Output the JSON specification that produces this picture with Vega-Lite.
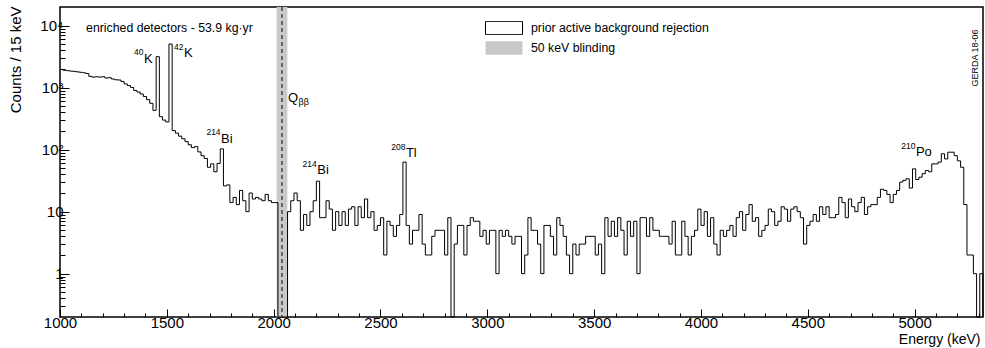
{
  "$schema": "https://vega.github.io/schema/vega-lite/v6.json",
  "width": 923,
  "height": 310,
  "autosize": {"type": "none"},
  "padding": {"left": 60, "top": 7, "right": 2, "bottom": 31},
  "background": "white",
  "config": {
    "view": {"stroke": "black", "strokeWidth": 1.5},
    "font": "Liberation Sans",
    "axis": {
      "grid": false,
      "domain": false,
      "tickColor": "black",
      "tickWidth": 1,
      "labelColor": "black",
      "titleColor": "black",
      "labelFont": "Liberation Sans",
      "titleFont": "Liberation Sans",
      "titleFontWeight": "normal",
      "labelFontSize": 15,
      "titleFontSize": 14
    }
  },
  "datasets": {
    "spectrum": [
      {"e": 1000, "n": 1960}, {"e": 1015, "n": 1910}, {"e": 1030, "n": 1880}, {"e": 1045, "n": 1850},
      {"e": 1060, "n": 1830}, {"e": 1075, "n": 1800}, {"e": 1090, "n": 1770}, {"e": 1105, "n": 1740},
      {"e": 1120, "n": 1690}, {"e": 1135, "n": 1520}, {"e": 1150, "n": 1480}, {"e": 1165, "n": 1500},
      {"e": 1180, "n": 1480}, {"e": 1195, "n": 1500}, {"e": 1210, "n": 1430}, {"e": 1225, "n": 1450},
      {"e": 1240, "n": 1380}, {"e": 1255, "n": 1340}, {"e": 1270, "n": 1330}, {"e": 1285, "n": 1260},
      {"e": 1300, "n": 1150}, {"e": 1315, "n": 1080}, {"e": 1330, "n": 1010}, {"e": 1345, "n": 900},
      {"e": 1360, "n": 850}, {"e": 1375, "n": 790}, {"e": 1390, "n": 720}, {"e": 1405, "n": 640},
      {"e": 1420, "n": 560}, {"e": 1435, "n": 430}, {"e": 1450, "n": 3160}, {"e": 1465, "n": 340},
      {"e": 1480, "n": 300}, {"e": 1495, "n": 280}, {"e": 1510, "n": 5050}, {"e": 1525, "n": 203},
      {"e": 1540, "n": 185}, {"e": 1555, "n": 165}, {"e": 1570, "n": 150}, {"e": 1585, "n": 135},
      {"e": 1600, "n": 120}, {"e": 1615, "n": 108}, {"e": 1630, "n": 112}, {"e": 1645, "n": 92},
      {"e": 1660, "n": 80}, {"e": 1675, "n": 72}, {"e": 1690, "n": 52}, {"e": 1705, "n": 59},
      {"e": 1720, "n": 44}, {"e": 1735, "n": 60}, {"e": 1750, "n": 103}, {"e": 1765, "n": 26},
      {"e": 1780, "n": 27}, {"e": 1795, "n": 14}, {"e": 1810, "n": 17}, {"e": 1825, "n": 13},
      {"e": 1840, "n": 22}, {"e": 1855, "n": 15}, {"e": 1870, "n": 10}, {"e": 1885, "n": 20},
      {"e": 1900, "n": 16}, {"e": 1915, "n": 17}, {"e": 1930, "n": 16}, {"e": 1945, "n": 15},
      {"e": 1960, "n": 19}, {"e": 1975, "n": 15}, {"e": 1990, "n": 14}, {"e": 2005, "n": 14},
      {"e": 2020, "n": 0}, {"e": 2035, "n": 0}, {"e": 2050, "n": 0}, {"e": 2065, "n": 10},
      {"e": 2080, "n": 15}, {"e": 2095, "n": 20}, {"e": 2110, "n": 15}, {"e": 2125, "n": 5},
      {"e": 2140, "n": 9}, {"e": 2155, "n": 6}, {"e": 2170, "n": 10}, {"e": 2185, "n": 15},
      {"e": 2200, "n": 31}, {"e": 2215, "n": 8}, {"e": 2230, "n": 8}, {"e": 2245, "n": 15},
      {"e": 2260, "n": 11}, {"e": 2275, "n": 5}, {"e": 2290, "n": 10}, {"e": 2305, "n": 6},
      {"e": 2320, "n": 10}, {"e": 2335, "n": 6}, {"e": 2350, "n": 11}, {"e": 2365, "n": 12},
      {"e": 2380, "n": 6}, {"e": 2395, "n": 12}, {"e": 2410, "n": 8}, {"e": 2425, "n": 16},
      {"e": 2440, "n": 8}, {"e": 2455, "n": 10}, {"e": 2470, "n": 5}, {"e": 2485, "n": 6},
      {"e": 2500, "n": 8}, {"e": 2515, "n": 2}, {"e": 2530, "n": 7}, {"e": 2545, "n": 6},
      {"e": 2560, "n": 4}, {"e": 2575, "n": 6}, {"e": 2590, "n": 9}, {"e": 2605, "n": 63},
      {"e": 2620, "n": 6}, {"e": 2635, "n": 3}, {"e": 2650, "n": 5}, {"e": 2665, "n": 5},
      {"e": 2680, "n": 9}, {"e": 2695, "n": 3}, {"e": 2710, "n": 2}, {"e": 2725, "n": 2},
      {"e": 2740, "n": 4}, {"e": 2755, "n": 5}, {"e": 2770, "n": 5}, {"e": 2785, "n": 5},
      {"e": 2800, "n": 2}, {"e": 2815, "n": 8}, {"e": 2830, "n": 0}, {"e": 2845, "n": 3},
      {"e": 2860, "n": 6}, {"e": 2875, "n": 6}, {"e": 2890, "n": 2}, {"e": 2905, "n": 6},
      {"e": 2920, "n": 8}, {"e": 2935, "n": 7}, {"e": 2950, "n": 7}, {"e": 2965, "n": 4},
      {"e": 2980, "n": 5}, {"e": 2995, "n": 3}, {"e": 3010, "n": 5}, {"e": 3025, "n": 5},
      {"e": 3040, "n": 1}, {"e": 3055, "n": 5}, {"e": 3070, "n": 4}, {"e": 3085, "n": 5},
      {"e": 3100, "n": 4}, {"e": 3115, "n": 3}, {"e": 3130, "n": 4}, {"e": 3145, "n": 4},
      {"e": 3160, "n": 1}, {"e": 3175, "n": 2}, {"e": 3190, "n": 8}, {"e": 3205, "n": 5},
      {"e": 3220, "n": 5}, {"e": 3235, "n": 3}, {"e": 3250, "n": 1}, {"e": 3265, "n": 6},
      {"e": 3280, "n": 6}, {"e": 3295, "n": 4}, {"e": 3310, "n": 2}, {"e": 3325, "n": 8},
      {"e": 3340, "n": 6}, {"e": 3355, "n": 4}, {"e": 3370, "n": 2}, {"e": 3385, "n": 1},
      {"e": 3400, "n": 3}, {"e": 3415, "n": 2}, {"e": 3430, "n": 3}, {"e": 3445, "n": 3},
      {"e": 3460, "n": 4}, {"e": 3475, "n": 4}, {"e": 3490, "n": 4}, {"e": 3505, "n": 2},
      {"e": 3520, "n": 3}, {"e": 3535, "n": 1}, {"e": 3550, "n": 8}, {"e": 3565, "n": 4},
      {"e": 3580, "n": 7}, {"e": 3595, "n": 4}, {"e": 3610, "n": 8}, {"e": 3625, "n": 5},
      {"e": 3640, "n": 2}, {"e": 3655, "n": 7}, {"e": 3670, "n": 4}, {"e": 3685, "n": 7},
      {"e": 3700, "n": 1}, {"e": 3715, "n": 8}, {"e": 3730, "n": 8}, {"e": 3745, "n": 4},
      {"e": 3760, "n": 8}, {"e": 3775, "n": 5}, {"e": 3790, "n": 5}, {"e": 3805, "n": 4},
      {"e": 3820, "n": 4}, {"e": 3835, "n": 4}, {"e": 3850, "n": 3}, {"e": 3865, "n": 7},
      {"e": 3880, "n": 2}, {"e": 3895, "n": 2}, {"e": 3910, "n": 7}, {"e": 3925, "n": 4},
      {"e": 3940, "n": 2}, {"e": 3955, "n": 4}, {"e": 3970, "n": 5}, {"e": 3985, "n": 11},
      {"e": 4000, "n": 6}, {"e": 4015, "n": 10}, {"e": 4030, "n": 4}, {"e": 4045, "n": 8},
      {"e": 4060, "n": 3}, {"e": 4075, "n": 2}, {"e": 4090, "n": 5}, {"e": 4105, "n": 4},
      {"e": 4120, "n": 5}, {"e": 4135, "n": 6}, {"e": 4150, "n": 4}, {"e": 4165, "n": 8},
      {"e": 4180, "n": 10}, {"e": 4195, "n": 5}, {"e": 4210, "n": 9}, {"e": 4225, "n": 13},
      {"e": 4240, "n": 7}, {"e": 4255, "n": 8}, {"e": 4270, "n": 4}, {"e": 4285, "n": 5},
      {"e": 4300, "n": 6}, {"e": 4315, "n": 11}, {"e": 4330, "n": 10}, {"e": 4345, "n": 6},
      {"e": 4360, "n": 7}, {"e": 4375, "n": 12}, {"e": 4390, "n": 11}, {"e": 4405, "n": 7},
      {"e": 4420, "n": 11}, {"e": 4435, "n": 12}, {"e": 4450, "n": 10}, {"e": 4465, "n": 8},
      {"e": 4480, "n": 3}, {"e": 4495, "n": 6}, {"e": 4510, "n": 7}, {"e": 4525, "n": 9},
      {"e": 4540, "n": 7}, {"e": 4555, "n": 12}, {"e": 4570, "n": 9}, {"e": 4585, "n": 12},
      {"e": 4600, "n": 8}, {"e": 4615, "n": 8}, {"e": 4630, "n": 9}, {"e": 4645, "n": 17},
      {"e": 4660, "n": 14}, {"e": 4675, "n": 8}, {"e": 4690, "n": 16}, {"e": 4705, "n": 12},
      {"e": 4720, "n": 10}, {"e": 4735, "n": 14}, {"e": 4750, "n": 17}, {"e": 4765, "n": 9},
      {"e": 4780, "n": 12}, {"e": 4795, "n": 13}, {"e": 4810, "n": 13}, {"e": 4825, "n": 17},
      {"e": 4840, "n": 23}, {"e": 4855, "n": 22}, {"e": 4870, "n": 19}, {"e": 4885, "n": 14},
      {"e": 4900, "n": 19}, {"e": 4915, "n": 22}, {"e": 4930, "n": 30}, {"e": 4945, "n": 32},
      {"e": 4960, "n": 34}, {"e": 4975, "n": 24}, {"e": 4990, "n": 49}, {"e": 5005, "n": 33},
      {"e": 5020, "n": 36}, {"e": 5035, "n": 41}, {"e": 5050, "n": 46}, {"e": 5065, "n": 44},
      {"e": 5080, "n": 59}, {"e": 5095, "n": 59}, {"e": 5110, "n": 63}, {"e": 5125, "n": 86},
      {"e": 5140, "n": 71}, {"e": 5155, "n": 91}, {"e": 5170, "n": 91}, {"e": 5185, "n": 80},
      {"e": 5200, "n": 66}, {"e": 5215, "n": 52}, {"e": 5230, "n": 13}, {"e": 5245, "n": 2},
      {"e": 5260, "n": 2}, {"e": 5275, "n": 1}, {"e": 5290, "n": 0}, {"e": 5305, "n": 1},
      {"e": 5320, "n": 0}
    ],
    "isotopes": [
      {"e": 1393, "c": 2527, "mass": "40", "el": "K"},
      {"e": 1580, "c": 3116, "mass": "42", "el": "K"},
      {"e": 1754, "c": 130, "mass": "214", "el": "Bi"},
      {"e": 2204, "c": 40, "mass": "214", "el": "Bi"},
      {"e": 2619, "c": 76, "mass": "208", "el": "Tl"},
      {"e": 5006, "c": 79, "mass": "210", "el": "Po"}
    ]
  },
  "layer": [
    {
      "data": {"values": [{"lo": 2014, "hi": 2064, "item": "50 keV blinding"}]},
      "mark": {"type": "rect", "strokeWidth": 1},
      "encoding": {
        "x": {"field": "lo", "type": "quantitative", "scale": {"domain": [1000, 5320], "nice": false, "zero": false}, "axis": null},
        "x2": {"field": "hi"},
        "fill": {
          "field": "item", "type": "nominal",
          "scale": {"domain": ["prior active background rejection", "50 keV blinding"], "range": ["white", "#c9c9c9"]},
          "legend": {"title": null, "orient": "none", "legendX": 425, "legendY": 14, "direction": "vertical", "symbolType": "M-1,-0.36H1V0.36H-1Z", "symbolSize": 1369, "symbolStrokeWidth": 1, "symbolOpacity": 1, "labelFont": "Liberation Sans", "labelFontSize": 12.3, "labelColor": "black", "labelOffset": 8, "labelLimit": 400, "clipHeight": 14, "rowPadding": 6, "padding": 0}
        },
        "stroke": {
          "field": "item", "type": "nominal",
          "scale": {"domain": ["prior active background rejection", "50 keV blinding"], "range": ["black", "transparent"]},
          "legend": {"title": null, "orient": "none", "legendX": 425, "legendY": 14, "direction": "vertical", "symbolType": "M-1,-0.36H1V0.36H-1Z", "symbolSize": 1369, "symbolStrokeWidth": 1, "symbolOpacity": 1, "labelFont": "Liberation Sans", "labelFontSize": 12.3, "labelColor": "black", "labelOffset": 8, "labelLimit": 400, "clipHeight": 14, "rowPadding": 6, "padding": 0}
        }
      }
    },
    {
      "data": {"values": [{"qbb": 2039}]},
      "mark": {"type": "rule", "stroke": "black", "strokeWidth": 1, "strokeDash": [4, 3]},
      "encoding": {
        "x": {"field": "qbb", "type": "quantitative", "scale": {"domain": [1000, 5320], "nice": false, "zero": false}, "axis": null}
      }
    },
    {
      "data": {"name": "spectrum"},
      "mark": {"type": "line", "interpolate": "step-after", "stroke": "black", "strokeWidth": 1},
      "encoding": {
        "x": {
          "field": "e", "type": "quantitative",
          "scale": {"domain": [1000, 5320], "nice": false, "zero": false},
          "axis": {"orient": "bottom", "values": [1000, 1500, 2000, 2500, 3000, 3500, 4000, 4500, 5000], "format": "d", "tickSize": -8, "labelPadding": 6, "labelFlush": false, "title": "Energy (keV)", "titleX": 920, "titleY": 26, "titleAlign": "right", "titleBaseline": "alphabetic"}
        },
        "y": {
          "field": "n", "type": "quantitative",
          "scale": {"type": "log", "domain": [0.2, 20000], "nice": false, "clamp": true},
          "axis": {"orient": "left", "values": [1, 10, 100, 1000, 10000], "tickSize": -9, "labelPadding": 6, "labelExpr": "datum.value >= 10000 ? '10⁴' : datum.value >= 1000 ? '10³' : datum.value >= 100 ? '10²' : datum.value >= 10 ? '10' : '1'", "title": "Counts / 15 keV", "titleFontSize": 15, "titleAngle": 270, "titleX": -40, "titleY": -1, "titleAlign": "right", "titleBaseline": "alphabetic"}
        }
      }
    },
    {
      "data": {"name": "isotopes"},
      "mark": {"type": "text", "align": "left", "baseline": "alphabetic", "fontSize": 13, "font": "Liberation Sans", "color": "black"},
      "encoding": {
        "x": {
          "field": "e", "type": "quantitative",
          "scale": {"domain": [1000, 5320], "nice": false, "zero": false},
          "axis": {"orient": "bottom", "values": [1100, 1200, 1300, 1400, 1600, 1700, 1800, 1900, 2100, 2200, 2300, 2400, 2600, 2700, 2800, 2900, 3100, 3200, 3300, 3400, 3600, 3700, 3800, 3900, 4100, 4200, 4300, 4400, 4600, 4700, 4800, 4900, 5100, 5200, 5300], "tickSize": -4, "labels": false, "title": null}
        },
        "y": {
          "field": "c", "type": "quantitative",
          "scale": {"type": "log", "domain": [0.2, 20000], "nice": false, "clamp": true},
          "axis": {"orient": "left", "values": [0.3, 0.4, 0.5, 0.6, 0.7, 0.8, 0.9, 2, 3, 4, 5, 6, 7, 8, 9, 20, 30, 40, 50, 60, 70, 80, 90, 200, 300, 400, 500, 600, 700, 800, 900, 2000, 3000, 4000, 5000, 6000, 7000, 8000, 9000], "tickSize": -5, "labels": false, "title": null}
        },
        "text": {"field": "el"}
      }
    },
    {
      "data": {"name": "isotopes"},
      "mark": {"type": "text", "align": "right", "baseline": "alphabetic", "dx": -0.5, "dy": -7.5, "fontSize": 8.5, "font": "Liberation Sans", "color": "black"},
      "encoding": {
        "x": {"field": "e", "type": "quantitative", "scale": {"domain": [1000, 5320], "nice": false, "zero": false}, "axis": null},
        "y": {"field": "c", "type": "quantitative", "scale": {"type": "log", "domain": [0.2, 20000], "nice": false, "clamp": true}, "axis": null},
        "text": {"field": "mass"}
      }
    },
    {
      "data": {"values": [{"e": 2067, "c": 590, "sym": "Q", "sub": "ββ"}]},
      "layer": [
        {
          "mark": {"type": "text", "align": "left", "baseline": "alphabetic", "fontSize": 13, "font": "Liberation Sans", "color": "black"},
          "encoding": {
            "x": {"field": "e", "type": "quantitative", "scale": {"domain": [1000, 5320], "nice": false, "zero": false}, "axis": null},
            "y": {"field": "c", "type": "quantitative", "scale": {"type": "log", "domain": [0.2, 20000], "nice": false, "clamp": true}, "axis": null},
            "text": {"field": "sym"}
          }
        },
        {
          "mark": {"type": "text", "align": "left", "baseline": "alphabetic", "dx": 10.5, "dy": 3.5, "fontSize": 9, "font": "Liberation Sans", "color": "black"},
          "encoding": {
            "x": {"field": "e", "type": "quantitative", "scale": {"domain": [1000, 5320], "nice": false, "zero": false}, "axis": null},
            "y": {"field": "c", "type": "quantitative", "scale": {"type": "log", "domain": [0.2, 20000], "nice": false, "clamp": true}, "axis": null},
            "text": {"field": "sub"}
          }
        }
      ]
    },
    {
      "data": {"values": [{"e": 1122, "c": 7980, "note": "enriched detectors - 53.9 kg·yr"}]},
      "mark": {"type": "text", "align": "left", "baseline": "alphabetic", "fontSize": 12.3, "font": "Liberation Sans", "color": "black"},
      "encoding": {
        "x": {"field": "e", "type": "quantitative", "scale": {"domain": [1000, 5320], "nice": false, "zero": false}, "axis": null},
        "y": {"field": "c", "type": "quantitative", "scale": {"type": "log", "domain": [0.2, 20000], "nice": false, "clamp": true}, "axis": null},
        "text": {"field": "note"}
      }
    },
    {
      "data": {"values": [{"e": 5282, "c": 3000, "tag": "GERDA 18-06"}]},
      "mark": {"type": "text", "align": "center", "baseline": "middle", "angle": 270, "fontSize": 9, "font": "Liberation Sans", "color": "black"},
      "encoding": {
        "x": {"field": "e", "type": "quantitative", "scale": {"domain": [1000, 5320], "nice": false, "zero": false}, "axis": null},
        "y": {"field": "c", "type": "quantitative", "scale": {"type": "log", "domain": [0.2, 20000], "nice": false, "clamp": true}, "axis": null},
        "text": {"field": "tag"}
      }
    }
  ],
  "resolve": {"axis": {"x": "independent", "y": "independent"}}
}
